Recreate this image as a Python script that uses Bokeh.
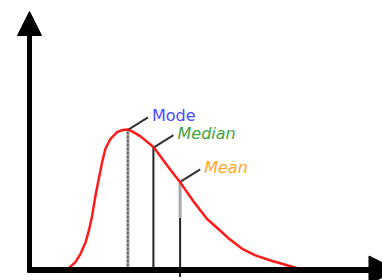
from bokeh.plotting import figure
from bokeh.models import Range1d, Arrow, NormalHead, Label
from bokeh.embed import file_html
from bokeh.resources import INLINE

# Skewed distribution curve
curve_x = [1.31, 1.53, 1.70, 1.87, 1.98, 2.09, 2.20, 2.31, 2.42, 2.53, 2.70, 2.92,
           3.10, 3.27, 3.42, 3.70, 4.14, 4.59, 5.00, 5.48, 5.92, 6.37, 6.64,
           7.09, 7.53, 8.09, 8.53, 8.92]
curve_y = [0.009, 0.039, 0.081, 0.139, 0.198, 0.273, 0.373, 0.456, 0.539, 0.606, 0.656, 0.689,
           0.700, 0.703, 0.693, 0.668, 0.614, 0.523, 0.443, 0.340, 0.255, 0.195, 0.158,
           0.106, 0.073, 0.045, 0.026, 0.009]

stat_names = ["Mode", "Median", "Mean"]
stat_x = [3.28, 4.13, 5.02]
stat_y = [0.703, 0.614, 0.443]
stat_colors = ["#4b4bff", "#3fa33f", "#ffa626"]
stat_italic = ["normal", "italic", "italic"]

X0, X1 = -0.967, 11.767
Y0, Y1 = -0.0525, 1.3475

p = figure(width=382, height=280, output_backend="svg", toolbar_location=None,
           x_range=Range1d(X0, X1), y_range=Range1d(Y0, Y1), min_border=0,
           x_axis_type=None, y_axis_type=None, title=None)
p.grid.visible = False
p.outline_line_color = None
p.background_fill_color = "white"

# vertical stat lines
p.segment(x0=[stat_x[0]], y0=[0], x1=[stat_x[0]], y1=[stat_y[0]], line_color="#9a9a9a", line_width=3)
p.segment(x0=[stat_x[0]], y0=[0], x1=[stat_x[0]], y1=[stat_y[0]], line_color="#444444", line_width=1, line_dash="2 2")
p.segment(x0=[stat_x[1]], y0=[0], x1=[stat_x[1]], y1=[stat_y[1]], line_color="#222222", line_width=2)
p.segment(x0=[stat_x[2]], y0=[0.26], x1=[stat_x[2]], y1=[stat_y[2]], line_color="#a8a8a8", line_width=3)
p.segment(x0=[stat_x[2]], y0=[-0.035], x1=[stat_x[2]], y1=[0.26], line_color="#222222", line_width=2)

# curve
p.line(curve_x, curve_y, line_color="#ff1a1a", line_width=2.5, line_join="round")

# leader lines and labels
dx, dy = 0.67, 0.06
for name, sx, sy, c, st in zip(stat_names, stat_x, stat_y, stat_colors, stat_italic):
    p.segment(x0=[sx + 0.03], y0=[sy], x1=[sx + dx], y1=[sy + dy], line_color="#333333", line_width=2)
    p.add_layout(Label(x=sx + dx, y=sy + dy, text=name, x_offset=4, y_offset=2,
                       text_baseline="middle", text_align="left",
                       text_font="DejaVu Sans", text_font_size="16px",
                       text_font_style=st, text_color=c))

# axes with arrows
p.add_layout(Arrow(x_start=0, y_start=-0.0125, x_end=0, y_end=1.2925, line_width=5, line_color="black",
                   end=NormalHead(size=24, fill_color="black", line_color="black", line_width=1)))
p.add_layout(Arrow(x_start=-0.067, y_start=0, x_end=12.25, y_end=0, line_width=6, line_color="black",
                   end=NormalHead(size=28, fill_color="black", line_color="black", line_width=1)))

open("out.html", "w").write(file_html(p, INLINE))
